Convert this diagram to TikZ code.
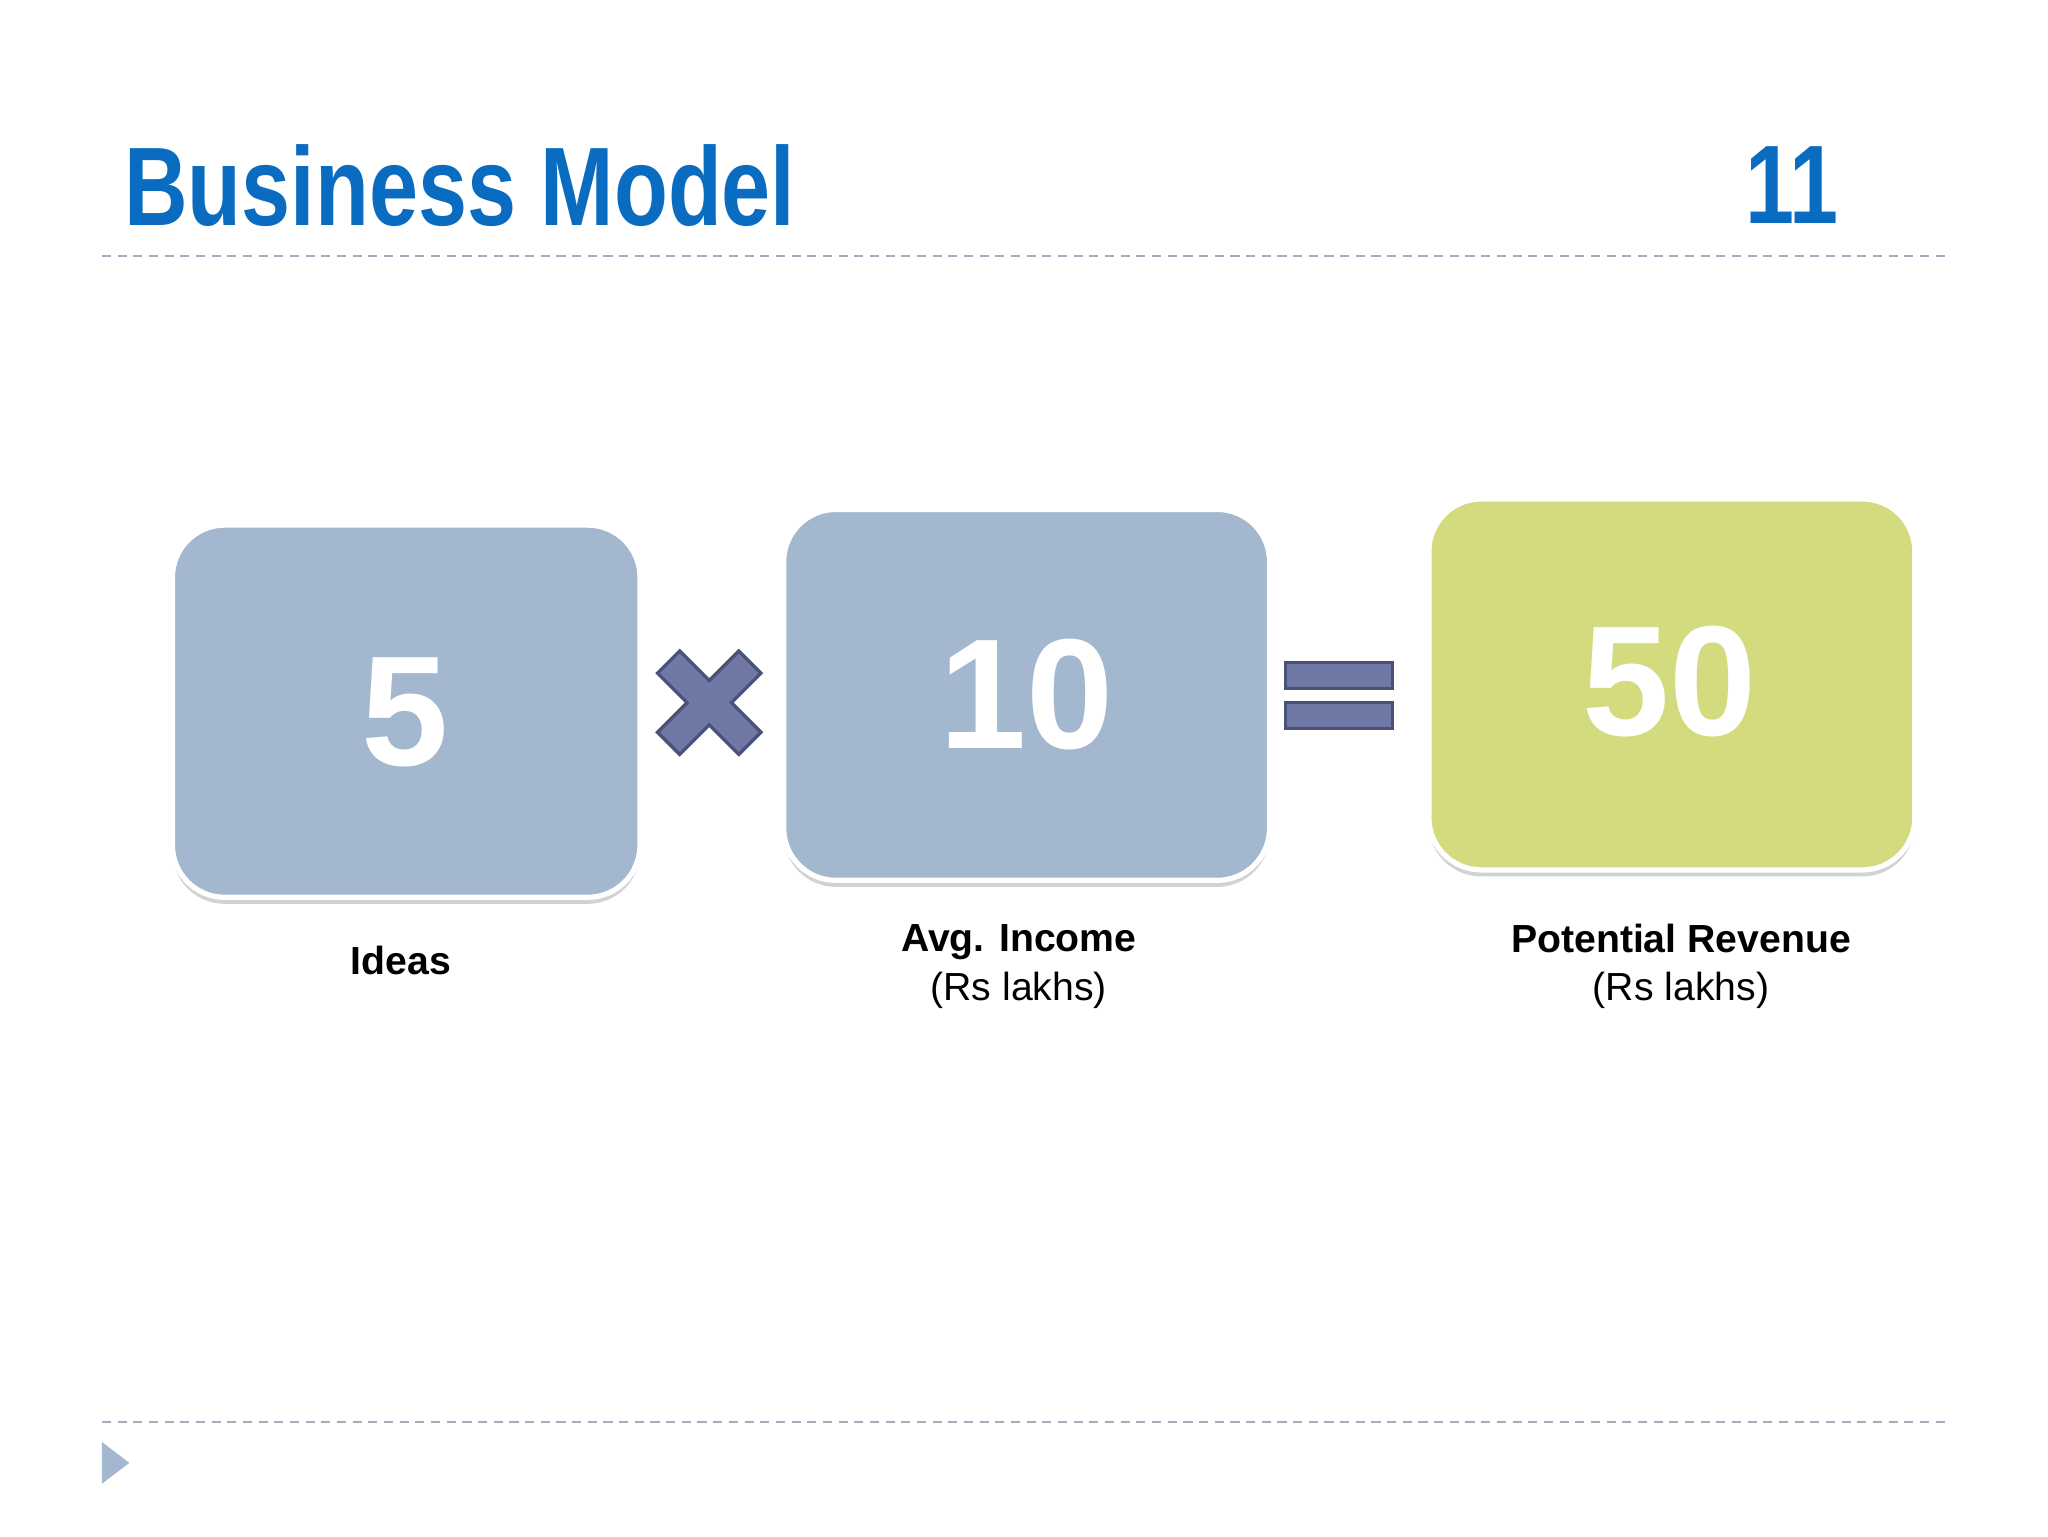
\documentclass[tikz,border=0pt]{standalone}
\usepackage{fontspec}
\setmainfont{Liberation Sans}
\usetikzlibrary{shadows}
\definecolor{bluebox}{HTML}{A3B8CE}
\definecolor{greenbox}{HTML}{D3DB7E}
\definecolor{titleblue}{HTML}{0A6CC0}
\definecolor{opfill}{HTML}{7079A5}
\definecolor{opdraw}{HTML}{4A527A}
\definecolor{dashc}{HTML}{A0AEC0}
\tikzset{
 card/.style={draw=white,line width=4pt,rounded corners=40pt,anchor=north west,inner sep=0pt,
   drop shadow={shadow xshift=0pt,shadow yshift=-5pt,opacity=0.35,fill=gray}},
 num/.style={text=white,font=\fontsize{120}{120}\selectfont\bfseries},
 lab/.style={font=\fontsize{30}{37}\selectfont,align=center},
 op/.style={fill=opfill,draw=opdraw,line width=2.5pt},
 rule/.style={dashc,dashed,line width=1.5pt,dash pattern=on 7pt off 5pt}
}
\begin{document}
\begin{tikzpicture}[x=1pt,y=-1pt]
\useasboundingbox[fill=white] (0,0) rectangle (1568,1176);
\node[anchor=west,text=titleblue,inner sep=0pt] (title) at (95,142) {\scalebox{0.75}[0.95]{\fontsize{90}{90}\selectfont\bfseries Business Model}};
\node[anchor=east,text=titleblue,inner sep=0pt] (pg) at (1408,142) {\scalebox{0.75}[0.95]{\fontsize{90}{90}\selectfont\bfseries 11}};
\coordinate (r1a) at (78,196); \coordinate (r1b) at (1490,196);
\coordinate (r2a) at (78,1089); \coordinate (r2b) at (1490,1089);
\draw[rule] (r1a) -- (r1b);
\draw[rule] (r2a) -- (r2b);
\fill[bluebox] (78,1104) -- (99,1120) -- (78,1136) -- cycle;

\node[card,fill=bluebox,minimum width=358pt,minimum height=285pt] (b1) at (130,400) {};
\node[card,fill=bluebox,minimum width=372pt,minimum height=284pt] (b2) at (598,388) {};
\node[card,fill=greenbox,minimum width=372pt,minimum height=284pt] (b3) at (1092,380) {};
\node[num] (n1) at (310,545) {5};
\node[num] (n2) at (786,532) {10};
\node[num] (n3) at (1278,522) {50};

\node[lab,font=\fontsize{30}{37}\selectfont\bfseries] (l1) at (307,735) {Ideas};
\node[lab] (l2) at (780,740) {\textbf{Avg. Income}\\(Rs lakhs)};
\node[lab] (l3) at (1287,740) {\textbf{Potential Revenue}\\(Rs lakhs)};

\begin{scope}[shift={(543,538)},rotate=45]
\draw[op] (-12,-44) -- (12,-44) -- (12,-12) -- (44,-12) -- (44,12) -- (12,12) -- (12,44) -- (-12,44) -- (-12,12) -- (-44,12) -- (-44,-12) -- (-12,-12) -- cycle;
\end{scope}
\draw[op] (984,507) rectangle (1066,527);
\draw[op] (984,538) rectangle (1066,558);
\end{tikzpicture}
\end{document}
